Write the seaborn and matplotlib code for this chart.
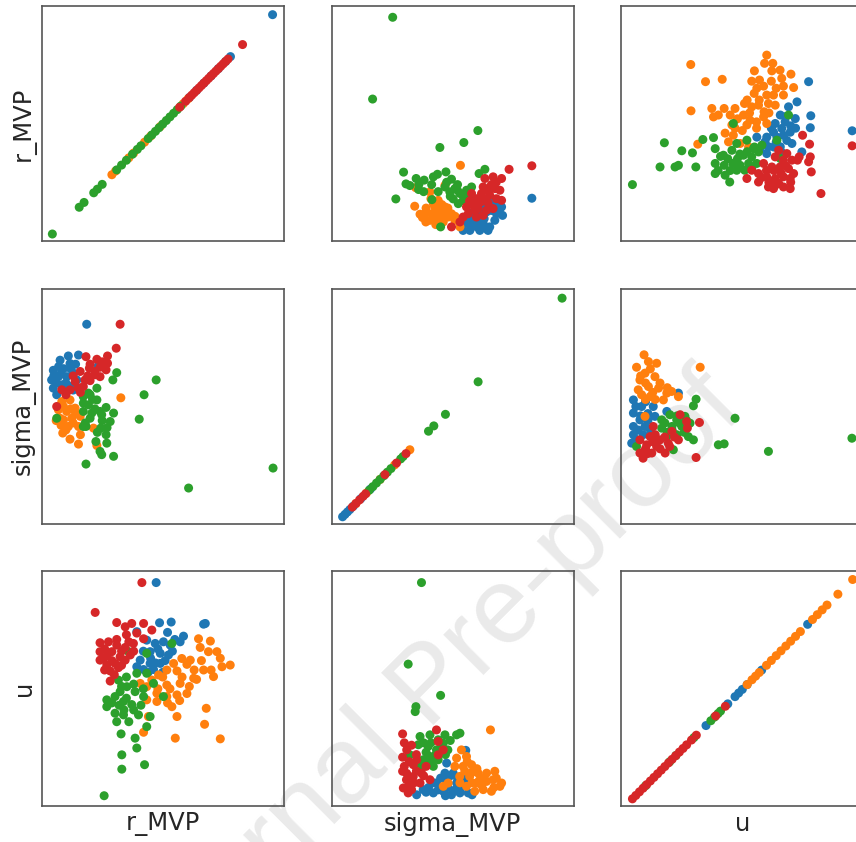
import matplotlib
matplotlib.use('Agg')
import matplotlib.pyplot as plt
import seaborn as sns
import pandas as pd

# variables of the scatter matrix (rows = y, columns = x)
VARS = ['r_MVP', 'sigma_MVP', 'u']
GROUPS = ['0', '1', '2', '3']
COLORS = ['#1f77b4', '#ff7f0e', '#2ca02c', '#d62728']

# values are on a 0-100 scale of each panel (no ticks in the original)
# --- diagonal panels: variable against itself
d11_blue = [61, 64, 67, 70, 73, 76, 78, 95.4]
d11_orange = [29, 30.5, 36, 38, 42.5, 45, 49, 58.5, 60.5]
d11_green = [4.4, 15.5, 17.5, 21.5, 23, 25, 31, 33, 35, 37.5, 39.5, 41, 44, 45.5, 47,
             48.5, 50, 51.5, 53, 54.5, 56, 57.5]
d11_red = [57, 59.5, 61, 62, 63, 64, 65, 66, 67, 68, 69, 70, 71, 72, 73, 74, 75, 76, 77, 83]

d22_blue = [4.5, 5.5, 6.5, 7.5, 9, 12, 16]
d22_orange = [10, 14.4, 20, 26, 32.3]
d22_green = [15.5, 17, 18.5, 20, 21.5, 23, 24.5, 28.5, 29.5, 40, 42.2, 47, 60.5, 95.2]
d22_red = [8.5, 10, 11.5, 13, 14, 22, 26.8, 30.7]

d33_blue = [35, 44, 47, 48.5, 50, 52, 58, 77]
d33_orange = [52, 54, 55.5, 57, 60, 62, 64, 66, 68, 70, 72, 74, 79, 81, 83, 85, 89.5, 95.6]
d33_green = [10, 20, 22.6, 30, 37, 38.5, 40, 41]
d33_red = [4.6, 6, 7.5, 9, 10.5, 12, 13.5, 15, 16.5, 18, 19.5, 21, 22.5, 24, 25.5, 27, 29,
           31, 39, 43]

# --- r_MVP (y) vs sigma_MVP (x)
p12_blue = [(82.7, 18.2), (65.6, 22.7), (66.7, 17.3), (70.2, 14.5), (70.6, 10.9), (64, 12.4),
            (67.4, 8.8), (65.3, 6), (61.2, 4.5), (57.1, 4.5), (55, 7.4), (58.5, 7.4), (62.6, 7.4),
            (59.8, 10.2), (56.4, 8.8), (68.1, 11.6), (69.5, 13.8), (54.3, 4.5), (64.6, 4.5),
            (60, 6), (63, 9.5), (66, 13), (61, 12.5), (58, 12), (58, 10), (62, 15), (67, 16),
            (57, 7), (60, 8.5), (63.5, 5.5), (68.5, 15.5), (61.5, 9)]
p12_orange = [(53.2, 32.2), (34.7, 22.7), (40.6, 20.9), (34.3, 14.8), (36.5, 11.4), (38.9, 8.1),
              (42, 15.9), (41.3, 11.6), (43.3, 9.5), (44.7, 13.1), (46.8, 14.5), (48.1, 10.2),
              (46.1, 8.1), (49.5, 11.6), (50.9, 8.8), (44, 17.3), (42.6, 14.5), (40.6, 8.8),
              (38.5, 11.6), (46.8, 23.7), (53, 6), (45, 11), (47.5, 12), (43, 7), (39, 14),
              (41, 18), (45.5, 15.5), (48, 14), (37.5, 10), (51, 10.5), (44, 12)]
p12_green = [(25.2, 95.2), (16.9, 60.4), (60.4, 47.0), (54.6, 41.9), (44.7, 39.8), (63.3, 30.5),
             (60.9, 28.7), (29.7, 29.3), (34.9, 26.6), (38.2, 25.9), (42, 27.3), (43.7, 28.4),
             (47.2, 29.4), (30.7, 24.3), (32.3, 23.6), (35.9, 21.9), (41.3, 24), (49.5, 26.3),
             (26.5, 17.9), (41.4, 17.6), (46.8, 23), (48.8, 20.9), (50.9, 22.3), (53, 20.2),
             (55.7, 21.6), (57.8, 23), (50.2, 17.9), (54.3, 17.2), (57.1, 18.6), (52.3, 15.9),
             (45, 6), (49, 19), (52, 21.5), (52, 24), (55, 19), (47.5, 25), (44, 21), (38, 21),
             (36, 24)]
p12_red = [(73.3, 30.5), (82.7, 32), (63.3, 26.6), (66.7, 27.3), (70.2, 26.6), (62.6, 23),
           (67.4, 22.3), (69.5, 21.6), (61.9, 20.2), (65.3, 19.5), (68.1, 18), (70.2, 17.3),
           (57.8, 20.2), (55.7, 14.5), (58.5, 15.2), (60.5, 13.8), (64, 13.1), (66.7, 13.8),
           (54.3, 10.2), (56.4, 11.6), (59.8, 10.2), (62.6, 10.9), (49.5, 6), (53, 8.1),
           (64.6, 16.2), (60, 18), (63, 18), (66, 24), (68, 25), (64, 22), (59, 13),
           (61.5, 16.5), (57, 17)]

# --- r_MVP (y) vs u (x)
p13_blue = [(77.4, 67.8), (72.6, 59.2), (69.1, 57.1), (78.3, 53.3), (78.1, 48.2), (71.9, 52.1),
            (95.4, 46.9), (65.7, 53.6), (63.6, 50), (67.7, 50.7), (66.3, 47.9), (69.8, 46.3),
            (62.9, 46.3), (60.1, 44.2), (64.3, 44.2), (68.4, 42.8), (60.8, 40.1), (70.5, 41.5),
            (65.7, 40.1), (59.4, 42.2), (56, 44.2), (57.4, 39.3), (60.1, 37.2), (74.6, 37.9),
            (62, 48), (64, 42), (67, 45), (66, 38), (63, 40), (70, 49), (68, 53), (72, 48)]
p13_orange = [(28.7, 75.1), (34.8, 67.8), (41.7, 68.8), (28.8, 55.4), (60.1, 79.1), (59.2, 75.6),
              (62.6, 75.6), (55, 72.4), (62.2, 72.4), (65.6, 72.7), (70.1, 71), (53.9, 68),
              (57.1, 68.5), (58.8, 65.9), (66.3, 69.2), (71.2, 65.3), (67, 65.9), (54.9, 62.8),
              (60.1, 62.1), (62.9, 62.1), (67, 62.1), (50.9, 58.5), (53.9, 57.1), (56.7, 57.8),
              (60.8, 58.5), (63.6, 57.8), (37.4, 56.4), (42.5, 56.4), (47, 56.4), (40.1, 53.6),
              (38.1, 52.8), (45, 53.6), (50.5, 53.6), (53.2, 51.4), (55.9, 50.7), (58.8, 52.8),
              (60.1, 50), (51.9, 49.4), (55.9, 48), (45.7, 49.4), (42.9, 45.9), (46.3, 45),
              (44.3, 42.2), (49.1, 41.5), (31.6, 41.2), (52.6, 40), (57, 60), (59, 55),
              (48, 52), (50, 47), (53, 54.5), (56, 65), (62, 68), (64, 65), (61, 54.5),
              (52, 60), (47, 48)]
p13_green = [(4.6, 24), (17.8, 41.8), (16, 31.5), (22.2, 31.5), (23.6, 32.2), (30.8, 31.5),
             (25, 38.4), (29.4, 37.5), (33.7, 43.2), (38.1, 44), (38.8, 39.3), (46.3, 50),
             (69.1, 53.6), (42.2, 36.5), (45.7, 38.6), (47.7, 41.5), (51.9, 42.9), (54.6, 39.3),
             (50.5, 36.5), (53.9, 35.8), (56.7, 37.9), (38.8, 33), (42.5, 32.2), (46.1, 33),
             (49.1, 32.2), (52.6, 33), (56, 33), (38.8, 28.7), (42.9, 28), (44.8, 25.1),
             (47.7, 30.1), (51, 30.1), (53.9, 30.8), (64.3, 42.9), (65.7, 35.1), (58.1, 40.8),
             (41, 36), (44, 35), (48, 35), (40, 30), (45, 30), (49, 37), (52, 38), (55, 40)]
p13_red = [(95.4, 40.5), (82.5, 20.2), (74.9, 45), (77.8, 41.2), (78.1, 35.8), (78.5, 29.4),
           (73.5, 35.8), (72.8, 34.4), (77.4, 33.7), (65, 38.6), (68.4, 37.2), (63.6, 35.8),
           (67, 34.4), (70.5, 34.4), (58.8, 33), (62.2, 31.5), (65.6, 31.5), (69.1, 30.8),
           (71.2, 28.7), (51.9, 26.6), (56.7, 28.7), (60.1, 27.3), (63.6, 26.6), (67, 27.3),
           (69.8, 26.6), (56.7, 25.1), (60.8, 23), (62.9, 22.3), (67, 23), (69.8, 22.3),
           (65, 24.6), (53.9, 30.1), (60, 30), (63, 30), (66, 29), (68, 32), (61, 25),
           (64, 24), (58, 27), (70, 25)]

# --- sigma_MVP (y) vs r_MVP (x)
p21_blue = [(18.6, 85), (11, 71.5), (15.2, 71.9), (7.6, 69.7), (11.7, 68.3), (9, 66.1),
            (4.8, 65.4), (4.1, 61.3), (6.9, 62.7), (10.3, 62.7), (13.1, 64.2), (4.8, 57.8),
            (8.3, 59.2), (11.7, 58.5), (14.5, 61.3), (9.7, 56.4), (6.2, 55), (23.4, 67.3),
            (6, 60), (8, 64), (12, 66), (14, 68), (7, 67), (10, 60), (13, 57), (5, 63)]
p21_orange = [(32.7, 53.7), (8.3, 52.1), (11.7, 52.8), (6.9, 48.6), (10.3, 47.9), (13.8, 49.3),
              (9, 44.3), (12.4, 45), (15.9, 45.8), (11, 41.5), (7.6, 45), (15.2, 41.5),
              (8.7, 38.7), (11.7, 36.1), (15.2, 34), (21.4, 40.8), (22.8, 33.4), (8, 42),
              (10, 40), (13, 43), (14, 47), (9, 50), (12, 49), (6, 44), (16, 38)]
p21_green = [(95.6, 23.8), (60.7, 15.3), (47.3, 61.3), (42.3, 55), (40.3, 44.6), (31, 64.4),
             (29.4, 61.3), (18.3, 25.5), (29.7, 28.8), (24.1, 30.9), (24.8, 29.5), (22.4, 35.1),
             (26.9, 34.4), (26.6, 38), (24.4, 40.8), (28.3, 43.6), (29.7, 47.2), (26.6, 49.6),
             (17.2, 54.2), (19.3, 55.7), (22.8, 57.8), (17.2, 51.4), (19.3, 50.7), (22.8, 52.8),
             (17.2, 47.9), (20.7, 47.2), (24.1, 47.9), (17.2, 41.5), (18.3, 41.5), (24.8, 46.5),
             (6.2, 45), (20, 45), (22, 49), (25, 44), (18, 43), (21, 53), (27, 41), (23, 39),
             (20, 55)]
p21_red = [(32.4, 85), (30.8, 74.8), (27.2, 71.5), (22.8, 70.1), (18.3, 71.2), (24.1, 66.7),
           (27.2, 68.4), (26.6, 65.6), (19.7, 66.3), (15.9, 64.9), (22.1, 63.5), (17.9, 61.3),
           (13.8, 60.6), (11.7, 57.1), (8.3, 57.1), (17.2, 58.5), (24.1, 62.7), (6.2, 50),
           (20, 68), (25, 69), (22, 65), (20, 61), (15, 58), (19, 63), (13, 63), (10, 55),
           (16, 56)]

# --- sigma_MVP (y) vs u (x)
p23_blue = [(23.6, 55.7), (5, 52.8), (8.4, 50), (5, 47.2), (7.7, 44.3), (5, 41.5), (9.8, 41.5),
            (13.2, 50), (13.9, 45.8), (5, 38), (9, 38), (4.3, 34.4), (18.8, 47.9), (6, 50),
            (8, 46), (11, 44), (7, 40), (11, 47), (6, 36), (10, 52), (12, 40)]
p23_orange = [(9.4, 72), (6.3, 66.7), (11.2, 69.1), (14.6, 68.4), (13.9, 62.7), (7.7, 61.3),
              (9.8, 64.2), (7, 57.1), (11.2, 58.5), (15.4, 57.8), (18.8, 55.7), (20.8, 56.4),
              (23.6, 54.2), (17.4, 52.8), (11.9, 54.2), (8.4, 55), (32.6, 66.7), (9.8, 45.8),
              (10, 60), (12, 66), (8, 63), (13, 56), (16, 60), (19, 58), (10, 53), (14, 53)]
p23_green = [(95.3, 36.5), (60.8, 30.9), (47, 45), (40.1, 33.7), (42.5, 34.1), (30.9, 53.1),
             (29.8, 50.3), (16.7, 44.3), (20.1, 46.5), (22.9, 44.3), (26.3, 45.8), (16.7, 40.8),
             (20.9, 41.5), (25, 41.5), (28.4, 42.9), (18.8, 37.2), (22.9, 38), (27.7, 37.2),
             (29.8, 35.8), (21.5, 31.6), (6.3, 33), (18, 43), (21, 40), (24, 43), (26, 39),
             (19, 39), (23, 46), (27, 44)]
p23_red = [(30.9, 28.3), (32.3, 43.2), (27, 43.6), (27.3, 40.8), (7.7, 35.8), (11.9, 37.2),
           (16, 35.8), (7.7, 30.2), (12.6, 30.2), (18.1, 30.2), (10.5, 33.7), (14.6, 33),
           (19.4, 34.4), (23.6, 35.8), (20.9, 39.4), (24.3, 46.5), (13.2, 41.5), (10, 32),
           (13, 35), (16, 32), (9, 28), (20, 33), (18, 37), (14, 38), (11, 30), (22, 37)]

# --- u (y) vs r_MVP (x)
p31_blue = [(47.3, 95.2), (48.7, 78.1), (53.5, 78.4), (66.9, 77.5), (67.6, 77.8), (58.6, 72.4),
            (57.2, 70), (39.3, 74.3), (43.4, 70.7), (46.9, 69.3), (50.3, 70), (53.1, 68.6),
            (44.8, 65.8), (49, 65.1), (52.4, 64.4), (40.7, 62.2), (44.8, 60.8), (49, 60.8),
            (42.1, 58.2), (39.3, 59.4), (46.2, 58.2), (45, 63), (48, 67), (51, 62), (47, 61),
            (54, 66), (42, 66), (50, 57), (44, 57), (55, 71), (52, 74)]
p31_orange = [(64.8, 71.3), (69.7, 70.3), (65.5, 67.6), (68.9, 65.8), (72.4, 65.8), (73.8, 63),
              (77.9, 60.1), (74.5, 59.4), (71, 55.2), (66.9, 58), (62.8, 54.5), (61.4, 62.2),
              (57.9, 62.9), (54.5, 60.8), (51.7, 58), (48.3, 55.9), (45.5, 53.7), (43.4, 50.9),
              (40.7, 52.3), (55.9, 57.6), (60, 60.4), (57.2, 52.3), (51.7, 51.6), (47.6, 48.1),
              (43.4, 45.3), (47.6, 44.6), (51.7, 46.7), (55.9, 47.4), (53.8, 42.4), (55.9, 38.2),
              (68, 41.7), (67.3, 34.9), (55.2, 29), (73.8, 28.7), (42.1, 31.5), (44.1, 38.2),
              (58, 55), (61, 51), (63, 58), (66, 62), (53, 50), (50, 55), (57, 45), (60, 48),
              (52, 44), (48, 50), (70, 58), (64, 54)]
p31_green = [(25.8, 4.5), (33.1, 15.8), (42.5, 17.7), (33.1, 21.9), (39.3, 24.8), (32.8, 30.8),
             (38.6, 29), (43.4, 33.9), (44.8, 38.2), (26.9, 45.3), (30.3, 46.7), (33.8, 44.6),
             (37.2, 43.3), (30.3, 39.6), (33.8, 38.9), (40, 38.9), (26.9, 42.4), (31.7, 53.7),
             (35.2, 50.9), (38.6, 48.8), (32.4, 48.8), (42.1, 46.7), (35.9, 65.8), (43.4, 65.1),
             (39.3, 56.6), (43.4, 56.6), (46.2, 52.3), (50.3, 46.7), (53.8, 69.3), (29, 44),
             (32, 43), (35, 46), (38, 41), (31, 36), (34, 41), (36, 36), (41, 43), (35, 55),
             (38, 52), (42, 50), (33, 51)]
p31_red = [(41.4, 95.2), (22.1, 82.5), (31, 78.2), (34.5, 76.4), (37.2, 77.8), (42.1, 77.8),
           (45.5, 75), (39.3, 73.7), (42.1, 71.3), (24.1, 69.6), (27.6, 70), (31, 68.6),
           (34.5, 67.6), (37.9, 69.3), (24.1, 65.8), (29, 65.8), (32.4, 63.6), (24.1, 62.2),
           (26.9, 60.1), (30.3, 60.8), (34.5, 62.2), (28.3, 57.6), (31.7, 59), (28.3, 53.3),
           (25.5, 62.9), (36.6, 64.4), (26, 67), (29, 62), (33, 66), (36, 70), (26, 58),
           (30, 56), (33, 60), (38, 66), (27, 64), (31, 71), (35, 73)]

# --- u (y) vs sigma_MVP (x)
p32_blue = [(55.4, 23.8), (35.1, 4.9), (37.8, 7.1), (42, 5.7), (46.1, 6.4), (49.5, 4.9),
            (53, 5.7), (43.3, 9.9), (47.5, 11.3), (51.6, 9.9), (55.7, 12), (50.2, 14.1),
            (46.8, 14.1), (53, 7.1), (56.4, 5.7), (47.5, 18.4), (40, 8), (44, 7), (48, 8),
            (51, 7), (54, 9), (45, 12), (49, 13), (52, 12), (42, 10), (39, 6), (58, 4.9),
            (47, 4.5)]
p32_orange = [(65.6, 32.5), (53.6, 24), (55.7, 21.2), (51.6, 20.5), (50.9, 17), (54.3, 17),
              (57.8, 17.7), (52.9, 12.7), (57, 12.7), (60.5, 14.1), (64, 14.1), (67.4, 14.9),
              (59.8, 9.9), (64, 10.6), (66.7, 11.3), (70.2, 9.9), (62.6, 7.1), (66, 6.4),
              (69.5, 8.5), (55.7, 8.5), (59.1, 6.4), (48.1, 9.9), (46.1, 8.5), (55, 15),
              (58, 14.5), (61, 11), (63, 12), (67, 8), (58, 10), (62, 9), (53, 10), (56, 19),
              (60, 16), (68, 12)]
p32_green = [(37.1, 95.2), (31.6, 60.5), (45, 47.2), (34.8, 42.4), (34.5, 40.3), (36.5, 29.7),
             (40.6, 30.4), (44, 28.3), (46.8, 30.4), (51.6, 30.4), (53, 31.1), (35.8, 26.2),
             (39.9, 25.5), (43.3, 24), (46.1, 26.9), (40.6, 21.2), (44, 19.8), (37.8, 19.8),
             (32.3, 21.9), (36.5, 17.7), (42, 17), (38, 27), (41, 27), (43, 22), (47, 22),
             (39, 23), (41, 19), (45, 25), (49, 28), (48, 24), (38, 17)]
p32_red = [(29.3, 30.8), (43.3, 32.5), (29.3, 20.9), (29.3, 14.9), (30.9, 11.3), (29.6, 7.8),
           (33.7, 17.7), (33.7, 12.7), (36.5, 9.9), (33, 7.1), (37.1, 14.1), (40.6, 11.3),
           (31.6, 5.7), (35.1, 19.8), (44, 27.6), (46.1, 24), (44, 21.9), (30, 17), (31, 14),
           (32, 9), (34, 10), (35, 15), (32, 19), (38, 13), (39, 17), (31, 24), (35, 22),
           (30, 27), (33, 26)]


def panel_frame(blue, orange, green, red, diagonal=False):
    rows = []
    for g, pts in zip(GROUPS, [blue, orange, green, red]):
        for p in pts:
            x, y = (p, p) if diagonal else p
            rows.append({'x': x, 'y': y, 'group': g})
    return pd.DataFrame(rows)


panels = {
    (0, 0): panel_frame(d11_blue, d11_orange, d11_green, d11_red, diagonal=True),
    (0, 1): panel_frame(p12_blue, p12_orange, p12_green, p12_red),
    (0, 2): panel_frame(p13_blue, p13_orange, p13_green, p13_red),
    (1, 0): panel_frame(p21_blue, p21_orange, p21_green, p21_red),
    (1, 1): panel_frame(d22_blue, d22_orange, d22_green, d22_red, diagonal=True),
    (1, 2): panel_frame(p23_blue, p23_orange, p23_green, p23_red),
    (2, 0): panel_frame(p31_blue, p31_orange, p31_green, p31_red),
    (2, 1): panel_frame(p32_blue, p32_orange, p32_green, p32_red),
    (2, 2): panel_frame(d33_blue, d33_orange, d33_green, d33_red, diagonal=True),
}

sns.set_style("white")
W, H = 856, 842
fig = plt.figure(figsize=(W / 100, H / 100), dpi=100)

col_left = [41.7, 331.7, 621.3]
row_top = [6, 289, 571.3]
aw, ah = 242, 235

for (i, j), df in panels.items():
    ax = fig.add_axes([col_left[j] / W, 1 - (row_top[i] + ah) / H, aw / W, ah / H])
    ax.set_facecolor('none')
    sns.scatterplot(data=df, x='x', y='y', hue='group', hue_order=GROUPS,
                    palette=COLORS, s=42, linewidth=0, legend=False, ax=ax)
    ax.set_xlim(0, 100)
    if i == j:
        ax.set_ylim(1.5, 99)
    else:
        ax.set_ylim(0, 100)
    ax.set_xticks([])
    ax.set_yticks([])
    for sp in ax.spines.values():
        sp.set_color('#555555')
        sp.set_linewidth(1.2)
    ax.set_xlabel(VARS[j] if i == 2 else '', fontsize=17.5)
    ax.set_ylabel(VARS[i] if j == 0 else '', fontsize=17.5)

# "Journal Pre-proof" watermark behind the points (cut by the lower edge, as in the original)
fig.text(432 / W, 1 - 688 / H, 'Journal Pre-proof', rotation=45, rotation_mode='anchor',
         ha='center', va='center', fontsize=78, family='Liberation Sans',
         color='#eaeaea', zorder=-1)

fig.savefig('out.png', dpi=100)
